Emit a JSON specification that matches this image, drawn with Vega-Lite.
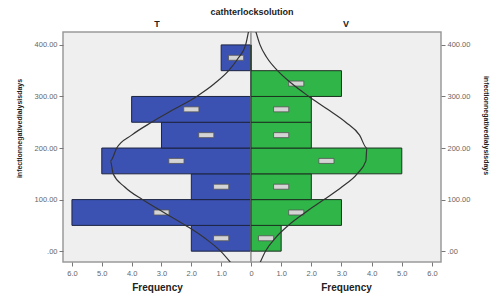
{
  "$schema": "https://vega.github.io/schema/vega-lite/v6.json",
  "background": "white",
  "padding": {"left": 14, "top": 8, "right": 4, "bottom": 2},
  "bounds": "flush",
  "title": {"text": "cathterlocksolution", "font": "Liberation Sans", "fontSize": 9, "fontWeight": "bold", "color": "#222", "anchor": "middle", "offset": 2},
  "config": {
    "view": {"fill": "#efefef", "stroke": "#9a9a9a", "strokeWidth": 1.5},
    "concat": {"spacing": 0},
    "font": "Liberation Sans",
    "axis": {"labelFont": "Liberation Sans", "labelFontSize": 7.5, "labelColor": "#666", "tickColor": "#777", "tickSize": 4, "domain": false, "grid": false, "labelOverlap": false, "titleFont": "Liberation Sans", "titleColor": "#222", "titleFontWeight": "bold"}
  },
  "datasets": {
    "bars": [
      {"group": "T", "bin_start": 0, "bin_end": 50, "count": 2},
      {"group": "T", "bin_start": 50, "bin_end": 100, "count": 6},
      {"group": "T", "bin_start": 100, "bin_end": 150, "count": 2},
      {"group": "T", "bin_start": 150, "bin_end": 200, "count": 5},
      {"group": "T", "bin_start": 200, "bin_end": 250, "count": 3},
      {"group": "T", "bin_start": 250, "bin_end": 300, "count": 4},
      {"group": "T", "bin_start": 300, "bin_end": 350, "count": 0},
      {"group": "T", "bin_start": 350, "bin_end": 400, "count": 1},
      {"group": "V", "bin_start": 0, "bin_end": 50, "count": 1},
      {"group": "V", "bin_start": 50, "bin_end": 100, "count": 3},
      {"group": "V", "bin_start": 100, "bin_end": 150, "count": 2},
      {"group": "V", "bin_start": 150, "bin_end": 200, "count": 5},
      {"group": "V", "bin_start": 200, "bin_end": 250, "count": 2},
      {"group": "V", "bin_start": 250, "bin_end": 300, "count": 2},
      {"group": "V", "bin_start": 300, "bin_end": 350, "count": 3},
      {"group": "V", "bin_start": 350, "bin_end": 400, "count": 0}
    ],
    "curve": [
      {"group": "T", "days": -25, "freq": 0.64},
      {"group": "T", "days": 0, "freq": 1.02},
      {"group": "T", "days": 25, "freq": 1.54},
      {"group": "T", "days": 50, "freq": 2.19},
      {"group": "T", "days": 75, "freq": 2.92},
      {"group": "T", "days": 100, "freq": 3.64},
      {"group": "T", "days": 125, "freq": 4.24},
      {"group": "T", "days": 150, "freq": 4.62},
      {"group": "T", "days": 175, "freq": 4.71},
      {"group": "T", "days": 200, "freq": 4.5},
      {"group": "T", "days": 225, "freq": 4.0},
      {"group": "T", "days": 250, "freq": 3.33},
      {"group": "T", "days": 275, "freq": 2.58},
      {"group": "T", "days": 300, "freq": 1.82},
      {"group": "T", "days": 325, "freq": 1.22},
      {"group": "T", "days": 350, "freq": 0.75},
      {"group": "T", "days": 375, "freq": 0.42},
      {"group": "T", "days": 400, "freq": 0.18},
      {"group": "T", "days": 430, "freq": 0.07},
      {"group": "V", "days": -25, "freq": 0.28},
      {"group": "V", "days": 0, "freq": 0.48},
      {"group": "V", "days": 25, "freq": 0.8},
      {"group": "V", "days": 50, "freq": 1.24},
      {"group": "V", "days": 75, "freq": 1.8},
      {"group": "V", "days": 100, "freq": 2.42},
      {"group": "V", "days": 125, "freq": 3.02},
      {"group": "V", "days": 150, "freq": 3.52},
      {"group": "V", "days": 175, "freq": 3.81},
      {"group": "V", "days": 200, "freq": 3.84},
      {"group": "V", "days": 225, "freq": 3.6},
      {"group": "V", "days": 250, "freq": 3.14},
      {"group": "V", "days": 275, "freq": 2.54},
      {"group": "V", "days": 300, "freq": 1.92},
      {"group": "V", "days": 325, "freq": 1.35},
      {"group": "V", "days": 350, "freq": 0.88},
      {"group": "V", "days": 375, "freq": 0.53},
      {"group": "V", "days": 400, "freq": 0.3},
      {"group": "V", "days": 430, "freq": 0.14}
    ]
  },
  "hconcat": [
    {
      "width": 188,
      "height": 230,
      "title": {"text": "T", "fontSize": 9, "fontWeight": "bold", "color": "#222", "offset": 3},
      "layer": [
        {
          "data": {"name": "bars"},
          "transform": [{"filter": "datum.group == 'T'"}],
          "mark": {"type": "rect", "fill": "#3c52b3", "stroke": "#1c2440", "strokeWidth": 1},
          "encoding": {
            "x": {"field": "count", "type": "quantitative", "scale": {"domain": [0, 6.3], "reverse": true, "nice": false, "zero": false},
              "axis": {"values": [1, 2, 3, 4, 5, 6], "tickCount": 20, "format": ".1f", "labelOverlap": false, "labelFlush": false, "labelPadding": 3, "title": "Frequency", "titleFontSize": 10, "titlePadding": 6}},
            "x2": {"datum": 0},
            "y": {"field": "bin_start", "type": "quantitative", "scale": {"domain": [-21, 425], "nice": false, "zero": false},
              "axis": {"values": [0, 100, 200, 300, 400], "tickCount": 20, "labelOverlap": false, "labelExpr": "datum.value == 0 ? '.00' : format(datum.value, '.2f')", "title": "infectionnegativedialysisdays", "titleFontSize": 7, "titleX": -44, "titleY": 96, "titleBaseline": "middle", "titleAlign": "center", "titleAngle": -90}},
            "y2": {"field": "bin_end"}
          }
        },
        {
          "data": {"name": "bars"},
          "transform": [{"filter": "datum.group == 'T' && datum.count > 0"}, {"calculate": "datum.count / 2", "as": "mid_x"}, {"calculate": "(datum.bin_start + datum.bin_end) / 2", "as": "mid_y"}],
          "mark": {"type": "point", "shape": "M-1,-0.33H1V0.33H-1Z", "size": 230, "filled": true, "fill": "#d4d4d4", "stroke": "#555", "strokeWidth": 0.8, "opacity": 1},
          "encoding": {
            "x": {"field": "mid_x", "type": "quantitative"},
            "y": {"field": "mid_y", "type": "quantitative"}
          }
        },
        {
          "data": {"name": "curve"},
          "transform": [{"filter": "datum.group == 'T'"}],
          "mark": {"type": "line", "color": "#333", "strokeWidth": 1.2, "clip": true, "interpolate": "monotone"},
          "encoding": {
            "x": {"field": "freq", "type": "quantitative"},
            "y": {"field": "days", "type": "quantitative"},
            "order": {"field": "days", "type": "quantitative"}
          }
        }
      ]
    },
    {
      "width": 190,
      "height": 230,
      "title": {"text": "V", "fontSize": 9, "fontWeight": "bold", "color": "#222", "offset": 3},
      "layer": [
        {
          "data": {"name": "bars"},
          "transform": [{"filter": "datum.group == 'V'"}],
          "mark": {"type": "rect", "fill": "#2fb548", "stroke": "#1c3320", "strokeWidth": 1},
          "encoding": {
            "x": {"field": "count", "type": "quantitative", "scale": {"domain": [0, 6.3], "nice": false, "zero": false},
              "axis": {"values": [0, 1, 2, 3, 4, 5, 6], "tickCount": 20, "labelOverlap": false, "labelFlush": false, "labelPadding": 3, "labelExpr": "datum.value == 0 ? '0' : format(datum.value, '.1f')", "title": "Frequency", "titleFontSize": 10, "titlePadding": 6}},
            "x2": {"datum": 0},
            "y": {"field": "bin_start", "type": "quantitative", "scale": {"domain": [-21, 425], "nice": false, "zero": false},
              "axis": {"orient": "right", "values": [0, 100, 200, 300, 400], "tickCount": 20, "labelOverlap": false, "labelExpr": "datum.value == 0 ? '.00' : format(datum.value, '.2f')", "title": "infectionnegativedialysisdays", "titleAngle": 90, "titleFontSize": 7, "titleX": 44, "titleY": 93, "titleBaseline": "middle", "titleAlign": "center"}},
            "y2": {"field": "bin_end"}
          }
        },
        {
          "data": {"name": "bars"},
          "transform": [{"filter": "datum.group == 'V' && datum.count > 0"}, {"calculate": "datum.count / 2", "as": "mid_x"}, {"calculate": "(datum.bin_start + datum.bin_end) / 2", "as": "mid_y"}],
          "mark": {"type": "point", "shape": "M-1,-0.33H1V0.33H-1Z", "size": 230, "filled": true, "fill": "#d4d4d4", "stroke": "#555", "strokeWidth": 0.8, "opacity": 1},
          "encoding": {
            "x": {"field": "mid_x", "type": "quantitative"},
            "y": {"field": "mid_y", "type": "quantitative"}
          }
        },
        {
          "data": {"name": "curve"},
          "transform": [{"filter": "datum.group == 'V'"}],
          "mark": {"type": "line", "color": "#333", "strokeWidth": 1.2, "clip": true, "interpolate": "monotone"},
          "encoding": {
            "x": {"field": "freq", "type": "quantitative"},
            "y": {"field": "days", "type": "quantitative"},
            "order": {"field": "days", "type": "quantitative"}
          }
        }
      ]
    }
  ]
}
